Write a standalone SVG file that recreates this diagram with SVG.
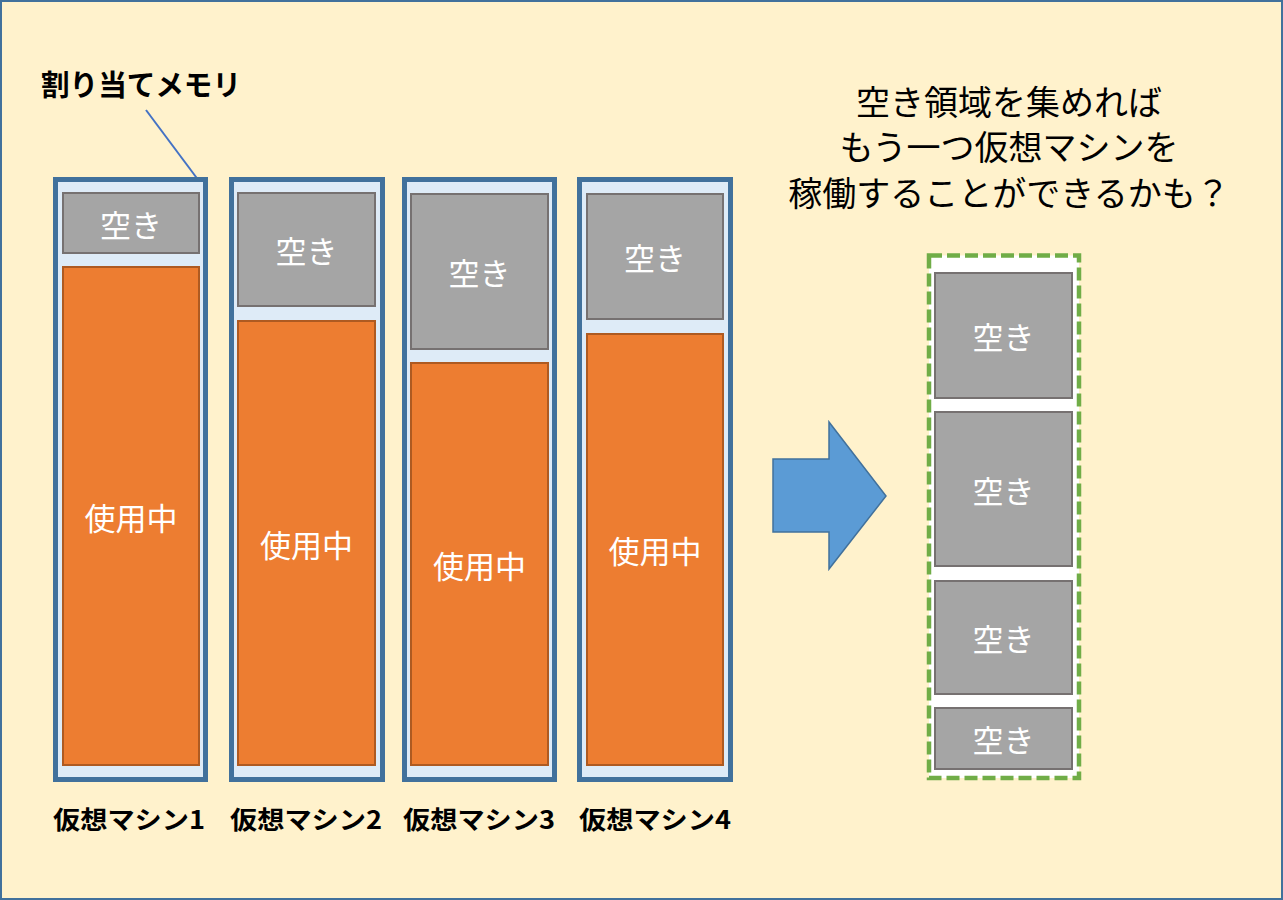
<svg xmlns="http://www.w3.org/2000/svg" width="1283" height="900" viewBox="0 0 1283 900">
<style>
.jp{font-family:"Noto Sans CJK JP","Noto Sans CJK SC",sans-serif}
.frame{fill:#DEEBF7;stroke:#41719C;stroke-width:5}
.free{fill:#A5A5A5;stroke:#767171;stroke-width:2}
.used{fill:#ED7D31;stroke:#AE5A21;stroke-width:2}
.wt{fill:#FFFFFF;font-size:31px;text-anchor:middle;dominant-baseline:central}
.lbl{fill:#000000;font-size:25px;font-weight:bold;text-anchor:middle;dominant-baseline:central}
.title{fill:#000000;font-size:34px;text-anchor:middle;dominant-baseline:central}
</style>
<rect id="background" x="1" y="1" width="1281" height="898" fill="#FFF2CC" stroke="#41719C" stroke-width="2"/>
<g id="connectors">
<line x1="146" y1="110" x2="199" y2="181" stroke="#4472C4" stroke-width="2"/>
<polygon id="arrow" points="773,459 829,459 829,422 886,496 829,569 829,532 773,532" fill="#5B9BD5" stroke="#41719C" stroke-width="1.5"/>
</g>
<g id="label-alloc" class="jp"><text x="141" y="83" font-size="29" font-weight="bold" text-anchor="middle" dominant-baseline="central" textLength="200" lengthAdjust="spacingAndGlyphs">割り当てメモリ</text></g>
<g id="vm1" class="jp">
<rect class="frame" x="55.5" y="179.5" width="150" height="600"/>
<rect class="free" x="63" y="193" width="136" height="60"/>
<text class="wt" x="131" y="223">空き</text>
<rect class="used" x="63" y="267" width="136" height="498"/>
<text class="wt" x="131" y="516">使用中</text>
<text class="lbl" x="129" y="818" textLength="152" lengthAdjust="spacingAndGlyphs">仮想マシン1</text>
</g>
<g id="vm2" class="jp">
<rect class="frame" x="231.5" y="179.5" width="151" height="600"/>
<rect class="free" x="238" y="193" width="137" height="113"/>
<text class="wt" x="306.5" y="249.5">空き</text>
<rect class="used" x="238" y="321" width="137" height="444"/>
<text class="wt" x="306.5" y="543">使用中</text>
<text class="lbl" x="306" y="818" textLength="152" lengthAdjust="spacingAndGlyphs">仮想マシン2</text>
</g>
<g id="vm3" class="jp">
<rect class="frame" x="404.5" y="179.5" width="150" height="600"/>
<rect class="free" x="411" y="194" width="137" height="155"/>
<text class="wt" x="479.5" y="271.5">空き</text>
<rect class="used" x="411" y="363" width="137" height="402"/>
<text class="wt" x="479.5" y="564">使用中</text>
<text class="lbl" x="479" y="818" textLength="152" lengthAdjust="spacingAndGlyphs">仮想マシン3</text>
</g>
<g id="vm4" class="jp">
<rect class="frame" x="579.5" y="179.5" width="151" height="600"/>
<rect class="free" x="587" y="194" width="136" height="125"/>
<text class="wt" x="655" y="256.5">空き</text>
<rect class="used" x="587" y="334" width="136" height="431"/>
<text class="wt" x="655" y="549.5">使用中</text>
<text class="lbl" x="655" y="818" textLength="152" lengthAdjust="spacingAndGlyphs">仮想マシン4</text>
</g>
<g id="title" class="jp">
<text class="title" x="1009" y="100">空き領域を集めれば</text>
<text class="title" x="1009" y="145">もう一つ仮想マシンを</text>
<text class="title" x="1009" y="191">稼働することができるかも？</text>
</g>
<g id="pooled" class="jp">
<rect x="929" y="255.5" width="150" height="522.5" fill="#FFFFFF" stroke="#70AD47" stroke-width="4.5" stroke-dasharray="13 5"/>
<rect class="free" x="935" y="273" width="137" height="125"/>
<text class="wt" x="1003.5" y="335.5">空き</text>
<rect class="free" x="935" y="412" width="137" height="154"/>
<text class="wt" x="1003.5" y="489">空き</text>
<rect class="free" x="935" y="581" width="137" height="113"/>
<text class="wt" x="1003.5" y="637.5">空き</text>
<rect class="free" x="935" y="708" width="137" height="61"/>
<text class="wt" x="1003.5" y="738.5">空き</text>
</g>
</svg>
